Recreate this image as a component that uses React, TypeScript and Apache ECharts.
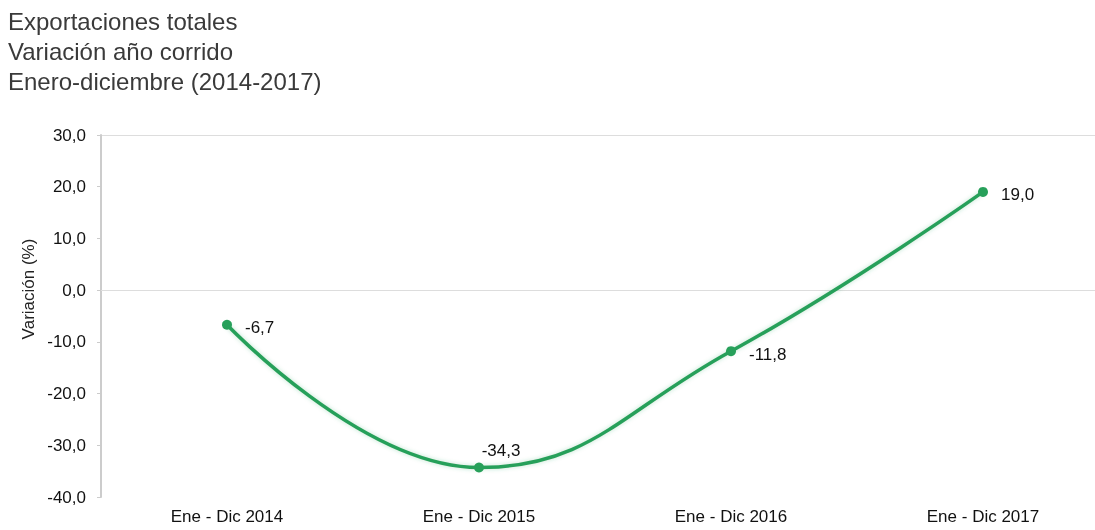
import React, { useEffect, useRef } from "react";
import * as echarts from "echarts";

const titleLines = ["Exportaciones totales", "Variación año corrido", "Enero-diciembre (2014-2017)"];
const categories = ["Ene - Dic 2014", "Ene - Dic 2015", "Ene - Dic 2016", "Ene - Dic 2017"];
const values = [-6.7, -34.3, -11.8, 19.0];
const labelPositions = ["right", "top", "right", "right"];
const yAxisName = "Variación (%)";

const FONT = "Liberation Sans, Arial, sans-serif";

export default function App() {
  const ref = useRef<HTMLDivElement>(null);
  useEffect(() => {
    if (!ref.current) return;
    const chart = echarts.init(ref.current, undefined, { renderer: "svg" });
    const fmt = (v: number) => v.toFixed(1).replace(".", ",");
    chart.setOption({
      animation: false,
      textStyle: { fontFamily: FONT },
      title: {
        text: titleLines.join("\n"),
        left: 6,
        top: 6,
        padding: [0, 2],
        textStyle: { fontSize: 24, fontWeight: "normal", color: "#3a3a3a", lineHeight: 30, fontFamily: FONT },
      },
      graphic: [
        {
          type: "text",
          x: 28,
          y: 289,
          rotation: Math.PI / 2,
          style: {
            text: yAxisName,
            fill: "#222",
            font: `17px ${FONT}`,
            textAlign: "center",
            textVerticalAlign: "middle",
          },
        },
      ],
      grid: { left: 101, top: 135, width: 1008, height: 362, outerBoundsMode: "none", containLabel: false },
      xAxis: {
        type: "category",
        data: categories,
        boundaryGap: true,
        axisLine: { lineStyle: { color: "#ddd", width: 1 } },
        axisTick: { show: false },
        axisLabel: { color: "#111", fontSize: 17, margin: 11, fontFamily: FONT },
      },
      yAxis: {
        type: "value",
        min: -40,
        max: 30,
        interval: 10,
        axisLine: { show: true, lineStyle: { color: "#ccc", width: 2 } },
        axisTick: { show: true, length: 4, lineStyle: { color: "#ccc" } },
        axisLabel: { color: "#111", fontSize: 17, margin: 15, fontFamily: FONT, formatter: (v: number) => fmt(v) },
        splitLine: {
          show: true,
          lineStyle: {
            color: ["transparent", "transparent", "transparent", "transparent", "#ccc", "transparent", "transparent", "#ddd"],
            width: 1,
          },
        },
      },
      series: [
        {
          type: "line",
          data: values.map((v, i) => ({
            value: v,
            label: {
              position: labelPositions[i],
              offset: labelPositions[i] === "right" ? [1, 3] : [22, 0],
              distance: labelPositions[i] === "right" ? 12 : 4,
            },
          })),
          smooth: 0.45,
          symbol: "circle",
          symbolSize: 10,
          lineStyle: { color: "#27a05a", width: 3.5, shadowColor: "rgba(39,160,90,0.3)", shadowBlur: 4 },
          itemStyle: { color: "#27a05a" },
          label: {
            show: true,
            color: "#111",
            fontSize: 17,
            fontFamily: FONT,
            formatter: (p: any) => fmt(p.value),
          },
        },
      ],
    });
    return () => chart.dispose();
  }, []);
  return <div ref={ref} style={{ position: "fixed", left: 0, top: 0, width: 1095, height: 530 }} />;
}
